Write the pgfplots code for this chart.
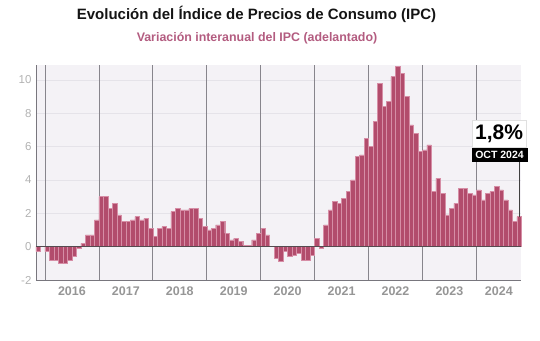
\documentclass[border=0pt]{standalone}
\usepackage{pgfplots}
\pgfplotsset{compat=1.18}
\usepackage{fontspec}
\setmainfont{Liberation Sans}
\definecolor{bgc}{RGB}{244,242,246}
\definecolor{gridc}{RGB}{229,227,233}
\definecolor{sepc}{RGB}{135,133,140}
\definecolor{axc}{RGB}{120,118,125}
\definecolor{zeroc}{RGB}{85,75,80}
\definecolor{tickc}{RGB}{178,178,178}
\definecolor{yearc}{RGB}{150,150,150}
\definecolor{barc}{RGB}{178,76,108}
\definecolor{barline}{RGB}{214,142,166}
\definecolor{subc}{RGB}{179,92,128}
\begin{document}
\begin{tikzpicture}
\path[use as bounding box] (0,0) rectangle (540pt,340pt);
\begin{axis}[
  at={(36pt,60pt)}, anchor=south west,
  scale only axis, width=485.3pt, height=215pt,
  xmin=-0.5, xmax=107.5, ymin=-2, ymax=10.9,
  axis background/.style={fill=bgc},
  axis x line*=bottom, axis y line*=left,
  axis line style={draw=axc, line width=0.8pt, -},
  ytick={-2,0,2,4,6,8,10},
  ymajorgrids, grid style={draw=gridc, line width=0.6pt},
  xtick={7.5,19.5,31.5,43.5,55.5,67.5,79.5,91.5,102.5},
  xticklabels={2016,2017,2018,2019,2020,2021,2022,2023,2024},
  extra x ticks={1.5,13.5,25.5,37.5,49.5,61.5,73.5,85.5,97.5},
  extra x tick labels={},
  extra x tick style={grid=major, major grid style={draw=sepc, line width=0.7pt}},
  major tick length=0pt,
  /pgf/number format/assume math mode=true,
  yticklabel style={font=\fontsize{11.5}{12}\selectfont, text=tickc, xshift=-1pt},
  xticklabel style={font=\fontsize{12.5}{13}\selectfont\bfseries, text=yearc, yshift=-3pt},
  ybar, bar width=1,
  clip=false,
]
\addplot[fill=barc, draw=barline, line width=0.35pt] coordinates {
(0,-0.3) (1,0.0)
(2,-0.3) (3,-0.8) (4,-0.8) (5,-1.0) (6,-1.0) (7,-0.8) (8,-0.6) (9,-0.1) (10,0.2) (11,0.7) (12,0.7) (13,1.6)
(14,3.0) (15,3.0) (16,2.3) (17,2.6) (18,1.9) (19,1.5) (20,1.5) (21,1.6) (22,1.8) (23,1.6) (24,1.7) (25,1.1)
(26,0.6) (27,1.1) (28,1.2) (29,1.1) (30,2.1) (31,2.3) (32,2.2) (33,2.2) (34,2.3) (35,2.3) (36,1.7) (37,1.2)
(38,1.0) (39,1.1) (40,1.3) (41,1.5) (42,0.8) (43,0.4) (44,0.5) (45,0.3) (46,0.1) (47,0.1) (48,0.4) (49,0.8)
(50,1.1) (51,0.7) (52,0.0) (53,-0.7) (54,-0.9) (55,-0.3) (56,-0.6) (57,-0.5) (58,-0.4) (59,-0.8) (60,-0.8) (61,-0.5)
(62,0.5) (63,-0.1) (64,1.3) (65,2.2) (66,2.7) (67,2.6) (68,2.9) (69,3.3) (70,4.0) (71,5.4) (72,5.5) (73,6.5)
(74,6.0) (75,7.5) (76,9.8) (77,8.4) (78,8.7) (79,10.2) (80,10.8) (81,10.4) (82,9.0) (83,7.3) (84,6.8) (85,5.7)
(86,5.8) (87,6.1) (88,3.3) (89,4.1) (90,3.2) (91,1.9) (92,2.3) (93,2.6) (94,3.5) (95,3.5) (96,3.2) (97,3.1)
(98,3.4) (99,2.8) (100,3.2) (101,3.3) (102,3.6) (103,3.4) (104,2.8) (105,2.2) (106,1.5) (107,1.8)
};
\draw[zeroc, line width=1pt] (axis cs:-0.5,0) -- (axis cs:107.5,0);
\draw[black!75, line width=0.6pt] (axis cs:107,1.8) -- (axis cs:107,5.1);
\end{axis}
\node[font=\fontsize{15}{17}\selectfont\bfseries, text=black!92] at (256.5pt,326pt) {Evolución del Índice de Precios de Consumo (IPC)};
\node[font=\fontsize{12.4}{14}\selectfont\bfseries, text=subc] at (257pt,302pt) {Variación interanual del IPC (adelantado)};
\node[fill=white, draw=black!12, minimum width=54pt, minimum height=27pt, inner sep=0pt, font=\fontsize{21}{23}\selectfont\bfseries] at (499pt,206.5pt) {1,8\%};
\node[fill=black, text=white, minimum width=56pt, minimum height=14pt, inner sep=0pt, font=\fontsize{10.5}{11}\selectfont\bfseries] at (499.5pt,185pt) {OCT 2024};
\end{tikzpicture}
\end{document}
